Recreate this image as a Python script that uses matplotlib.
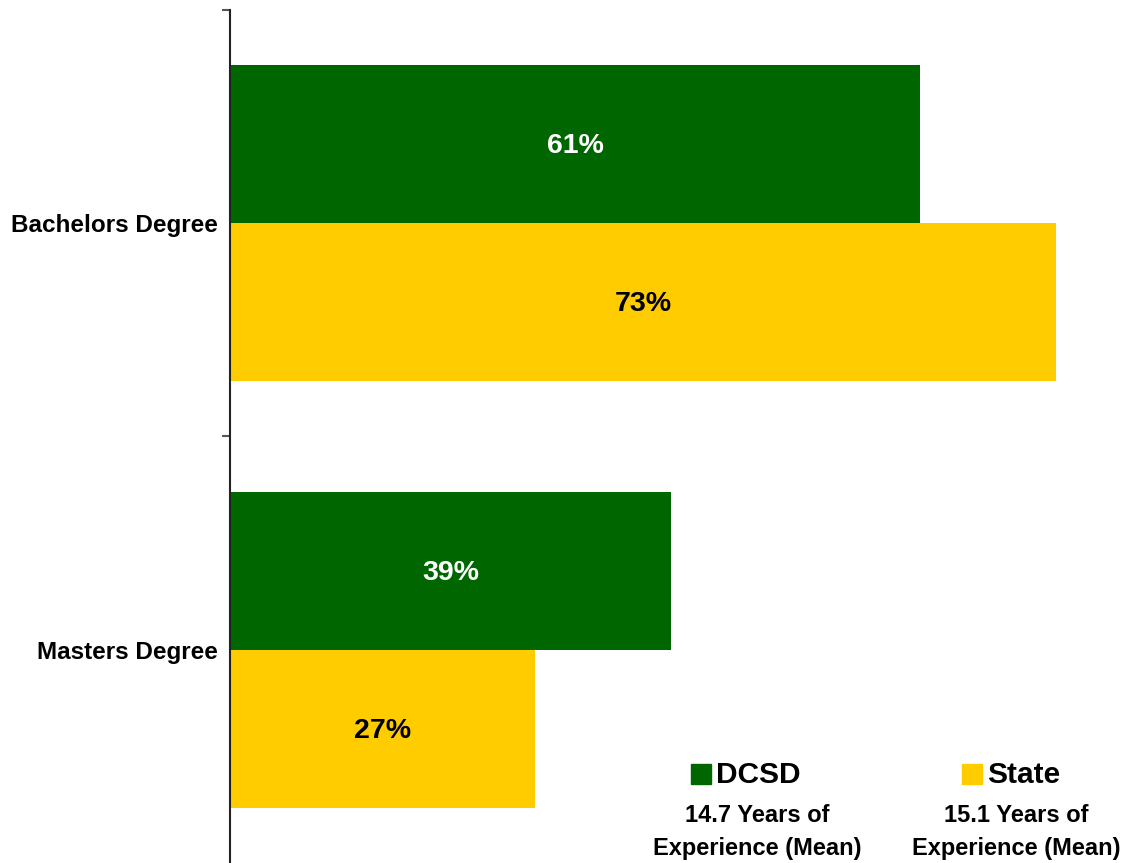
import matplotlib.pyplot as plt
import numpy as np

plt.rcParams['font.family'] = ['Liberation Sans', 'DejaVu Sans']

# data
categories = ['Bachelors Degree', 'Masters Degree']
dcsd = [61, 39]
state = [73, 27]
series_names = ['DCSD', 'State']
experience = ['14.7 Years of\nExperience (Mean)', '15.1 Years of\nExperience (Mean)']

green = '#006600'
yellow = '#FFCC00'

W, H = 1131, 863
fig = plt.figure(figsize=(W / 100, H / 100), dpi=100)
# axes in pixel terms: left edge at x=230, top at y=10, runs to the bottom
ax = fig.add_axes([230 / W, 0, 905 / W, 853 / H])

y = np.arange(len(categories))
bh = 0.37
b1 = ax.barh(y - bh / 2, dcsd, height=bh, color=green)
b2 = ax.barh(y + bh / 2, state, height=bh, color=yellow)

for bar, v in zip(b1, dcsd):
    ax.text(bar.get_width() / 2, bar.get_y() + bar.get_height() / 2 + 0.005, f'{v}%',
            ha='center', va='center', color='white', fontsize=20.5, fontweight='bold')
for bar, v in zip(b2, state):
    ax.text(bar.get_width() / 2, bar.get_y() + bar.get_height() / 2 + 0.005, f'{v}%',
            ha='center', va='center', color='black', fontsize=20.5, fontweight='bold')

ax.set_xlim(0, 80)
ax.set_ylim(1.5, -0.5)

for s in ['top', 'right', 'bottom']:
    ax.spines[s].set_visible(False)
ax.spines['left'].set_linewidth(1.5)
ax.spines['left'].set_color('#222222')
ax.set_xticks([])

# boundary ticks, labels at category centres
ax.set_yticks([-0.5, 0.5])
ax.set_yticklabels([])
ax.tick_params(axis='y', which='major', length=6, width=1.5, color='#555555')
ax.set_yticks(y, minor=True)
ax.set_yticklabels(categories, minor=True, fontsize=17.5, fontweight='bold')
ax.tick_params(axis='y', which='minor', length=0, pad=9)


def px(x, yy):
    return x / W, 1 - yy / H


# legend-like annotations
fig.patches.append(plt.Rectangle(px(691, 784), 20 / W, 20 / H, color=green,
                                 transform=fig.transFigure, figure=fig))
fig.text(*px(716, 775), series_names[0], fontsize=21.5, fontweight='bold', va='center', ha='left')
fig.patches.append(plt.Rectangle(px(962, 784), 20 / W, 20 / H, color=yellow,
                                 transform=fig.transFigure, figure=fig))
fig.text(*px(987, 775), series_names[1], fontsize=21.5, fontweight='bold', va='center', ha='left')

fig.text(*px(757, 832), experience[0], fontsize=17, fontweight='bold',
         ha='center', va='center', linespacing=1.6)
fig.text(*px(1016, 832), experience[1], fontsize=17, fontweight='bold',
         ha='center', va='center', linespacing=1.6)

fig.savefig('out.png', dpi=100)
